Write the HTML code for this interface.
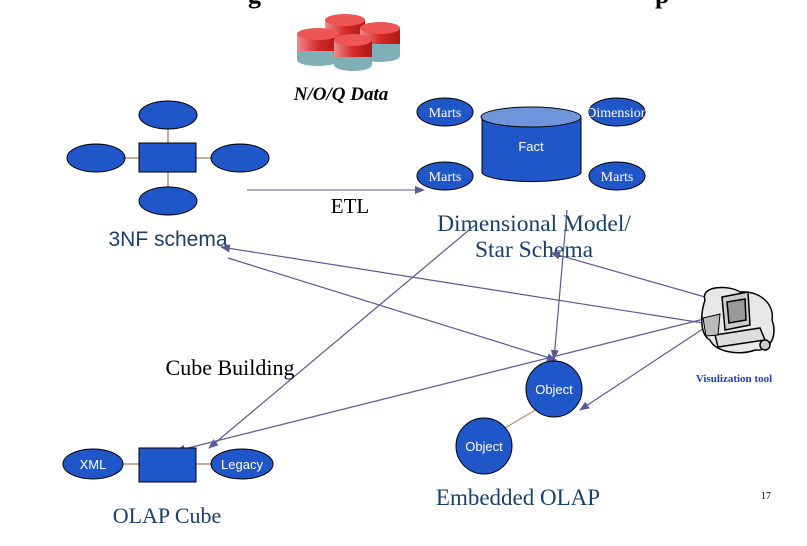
<!DOCTYPE html>
<html><head><meta charset="utf-8"><style>
html,body{margin:0;padding:0;background:#fff;}
svg{display:block;}
.w{font-family:"Liberation Sans",sans-serif;fill:#fff;font-size:13px;text-anchor:middle;}
.ws{font-family:"Liberation Serif",serif;fill:#fff;font-size:14px;text-anchor:middle;}
</style></head><body>
<svg width="807" height="546" viewBox="0 0 807 546" xmlns="http://www.w3.org/2000/svg">
<defs>
<marker id="a" markerWidth="10" markerHeight="8" refX="9" refY="4" orient="auto" markerUnits="userSpaceOnUse">
<path d="M0,0 L10,4 L0,8 Z" fill="#5a5a96"/></marker>
<linearGradient id="r" x1="0" x2="1"><stop offset="0" stop-color="#f08a8a"/><stop offset="0.5" stop-color="#d42a2a"/><stop offset="1" stop-color="#b01818"/></linearGradient>
</defs>
<text x="248" y="3" font-family="Liberation Serif" font-size="26" font-weight="bold" fill="#000">g</text>
<text x="655" y="3" font-family="Liberation Serif" font-size="26" font-weight="bold" fill="#000">p</text>
<g stroke="none">
<g transform="translate(345,28)"><rect x="-20" y="0" width="40" height="20" fill="#7fb0b5"/><rect x="-20" y="-8" width="40" height="16" fill="url(#r)"/><ellipse cx="0" cy="-8" rx="20" ry="6" fill="#e55"/></g>
<g transform="translate(380,36)"><ellipse cx="0" cy="20" rx="20" ry="6" fill="#7fb0b5"/><rect x="-20" y="0" width="40" height="20" fill="#7fb0b5"/><rect x="-20" y="-8" width="40" height="16" fill="url(#r)"/><ellipse cx="0" cy="-8" rx="20" ry="6" fill="#e55"/></g>
<g transform="translate(318,43)"><ellipse cx="0" cy="17" rx="21" ry="6" fill="#7fb0b5"/><rect x="-21" y="0" width="42" height="17" fill="#7fb0b5"/><rect x="-21" y="-9" width="42" height="17" fill="url(#r)"/><ellipse cx="0" cy="-9" rx="21" ry="6" fill="#e55"/></g>
<g transform="translate(353,50)"><ellipse cx="0" cy="15" rx="19" ry="6" fill="#7fb0b5"/><rect x="-19" y="0" width="38" height="15" fill="#7fb0b5"/><rect x="-19" y="-10" width="38" height="17" fill="url(#r)"/><ellipse cx="0" cy="-10" rx="19" ry="6" fill="#e55"/></g>
</g>
<text x="341" y="100" font-family="Liberation Serif" font-size="19" font-weight="bold" font-style="italic" text-anchor="middle" fill="#000">N/O/Q Data</text>
<g stroke="#8b5a3c" stroke-width="1"><line x1="168" y1="115" x2="168" y2="200"/><line x1="96" y1="158" x2="240" y2="158"/></g>
<g fill="#1f56c8" stroke="#000" stroke-width="1">
<ellipse cx="168" cy="115" rx="29" ry="14"/><ellipse cx="96" cy="158" rx="29" ry="14"/><ellipse cx="240" cy="158" rx="29" ry="14"/><ellipse cx="168" cy="201" rx="29" ry="14"/>
<rect x="139" y="143" width="57" height="29"/>
</g>
<text x="168" y="246" font-family="Liberation Sans" font-size="21" text-anchor="middle" fill="#17406d">3NF schema</text>
<line x1="247" y1="190" x2="424" y2="190" stroke="#5a5a96" marker-end="url(#a)"/>
<text x="350" y="213" font-family="Liberation Serif" font-size="21" text-anchor="middle" fill="#000">ETL</text>
<g fill="#1f56c8" stroke="#000" stroke-width="1">
<ellipse cx="445" cy="112" rx="28" ry="14"/><ellipse cx="445" cy="176" rx="28" ry="14"/>
<ellipse cx="617" cy="112" rx="28" ry="14"/><ellipse cx="617" cy="176" rx="28" ry="14"/>
<path d="M482,117 L482,173 A50,10 0 0 0 581,173 L581,117"/>
<ellipse cx="531" cy="117" rx="50" ry="10" fill="#6f96dc"/>
</g>
<text class="ws" x="445" y="117">Marts</text><text class="ws" x="445" y="181">Marts</text>
<text class="ws" x="617" y="181">Marts</text>
<svg x="589" y="98" width="56" height="28"><text class="ws" x="28" y="19">Dimension</text></svg>
<text class="w" x="531" y="151">Fact</text>
<text x="534" y="231" font-family="Liberation Serif" font-size="23.5" text-anchor="middle" fill="#17406d">Dimensional Model/</text>
<text x="534" y="257" font-family="Liberation Serif" font-size="23.5" text-anchor="middle" fill="#17406d">Star Schema</text>
<g stroke="#5a5a96" stroke-width="1.2" fill="none">
<line x1="703" y1="323" x2="221" y2="247" marker-end="url(#a)"/>
<line x1="712" y1="299" x2="551" y2="253" marker-end="url(#a)"/>
<line x1="228" y1="258" x2="556" y2="360" marker-end="url(#a)"/>
<line x1="567" y1="210" x2="554" y2="359" marker-end="url(#a)"/>
<line x1="475" y1="225" x2="209" y2="448" marker-end="url(#a)"/>
<line x1="716" y1="316" x2="176" y2="451" marker-end="url(#a)"/>
<line x1="727" y1="313" x2="580" y2="410" marker-end="url(#a)"/>
</g>
<text x="230" y="375" font-family="Liberation Serif" font-size="22" text-anchor="middle" fill="#000">Cube Building</text>
<g stroke="#000" stroke-width="1.5">
<path d="M705,300 C700,285 730,285 740,292 C760,290 775,305 772,320 C778,335 770,352 755,350 C740,356 715,352 710,340 C700,335 700,315 705,300 Z" fill="#e8e8e8"/>
<path d="M722,297 L748,292 L750,325 L725,330 Z" fill="#ccc"/>
<path d="M727,302 L745,299 L746,320 L729,323 Z" fill="#999"/>
<path d="M715,335 L760,328 L765,340 L718,347 Z" fill="#ddd"/>
<circle cx="765" cy="345" r="5" fill="#ccc"/>
<path d="M703,318 L720,314 L718,335 L706,336 Z" fill="#bbb" stroke-width="1"/>
</g>
<text x="734" y="382" font-family="Liberation Serif" font-size="11" font-weight="bold" text-anchor="middle" fill="#1f3fc8">Visulization tool</text>
<line x1="537" y1="409" x2="505" y2="428" stroke="#b07850"/>
<g fill="#1f56c8" stroke="#000"><circle cx="554" cy="389" r="28"/><circle cx="484" cy="446" r="28"/></g>
<text class="w" x="554" y="394">Object</text><text class="w" x="484" y="451">Object</text>
<text x="518" y="505" font-family="Liberation Serif" font-size="23" text-anchor="middle" fill="#17406d">Embedded OLAP</text>
<g stroke="#8b5a3c"><line x1="120" y1="464" x2="215" y2="464"/></g>
<g fill="#1f56c8" stroke="#000">
<ellipse cx="93" cy="464" rx="30" ry="15"/><ellipse cx="242" cy="464" rx="31" ry="15"/>
<rect x="139" y="448" width="57" height="34"/>
</g>
<text class="w" x="93" y="469">XML</text><text class="w" x="242" y="469">Legacy</text>
<text x="167" y="523" font-family="Liberation Serif" font-size="22" text-anchor="middle" fill="#17406d">OLAP Cube</text>
<text x="766" y="499" font-family="Liberation Serif" font-size="10" text-anchor="middle" fill="#000">17</text>
</svg>
</body></html>
